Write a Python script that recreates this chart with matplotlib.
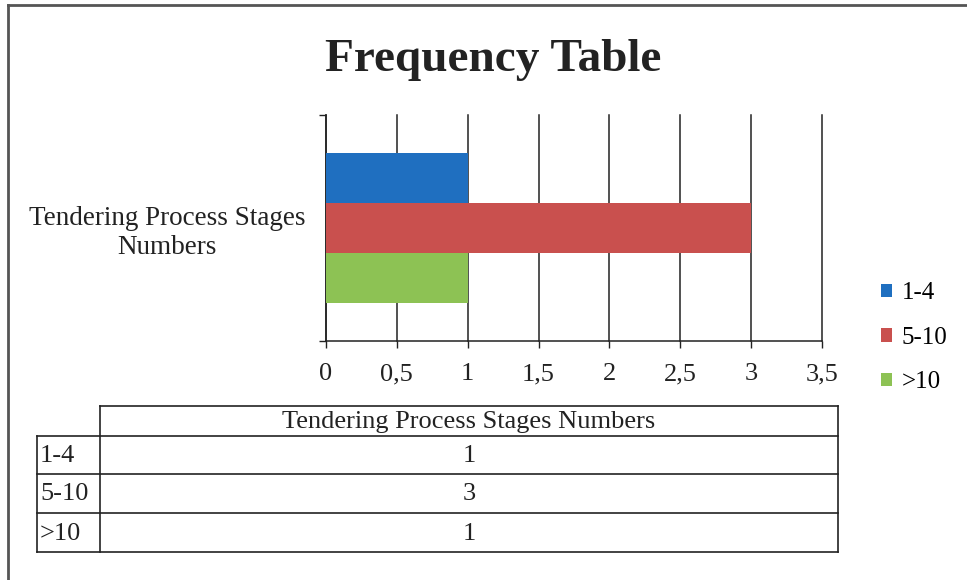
import numpy as np
import matplotlib
matplotlib.use("Agg")
import matplotlib.pyplot as plt
from matplotlib.patches import Patch

plt.rcParams['font.family'] = ['Liberation Serif', 'DejaVu Serif']

# dados
categoria = "Tendering Process Stages Numbers"
faixas = ["1-4", "5-10", ">10"]
valores = [1, 3, 1]
cores = ["#1F6FC0", "#C9504E", "#8DC254"]
xticks = [0, 0.5, 1, 1.5, 2, 2.5, 3, 3.5]
xtick_labels = ["0", "0,5", "1", "1,5", "2", "2,5", "3", "3,5"]

W, H = 967, 580
fig = plt.figure(figsize=(W / 100, H / 100), dpi=100)

# camada de fundo em pixels (moldura + tabela)
base = fig.add_axes([0, 0, 1, 1])
base.set_xlim(0, W)
base.set_ylim(H, 0)
base.axis("off")
base.plot([8, W], [5, 5], color="#555555", lw=2)
base.plot([8, 8], [5, H], color="#555555", lw=2)

fig.text(493 / W, 1 - 60 / H, "Frequency Table", ha="center", va="center",
         fontsize=34, fontweight="bold", color="#222222")

# grafico de barras
ax = fig.add_axes([326 / W, 1 - 341 / H, 496 / W, 226 / H])
altura = 0.221
for i in range(len(faixas)):
    ax.barh(altura * (1 - i), valores[i], height=altura, color=cores[i],
            label=faixas[i], zorder=3)

ax.set_xlim(0, 3.5)
ax.set_ylim(-0.5, 0.5)
ax.set_xticks(xticks)
ax.set_xticklabels(xtick_labels, fontsize=19, color="#222222")
ax.tick_params(axis="x", direction="out", length=5, width=1, pad=11, colors="#222222")
ax.grid(axis="x", color="#222222", lw=1.1, zorder=1)
for g in ax.get_xgridlines():
    g.set_clip_on(False)

ax.set_yticks([-0.5, 0.5])
ax.set_yticklabels([])
ax.tick_params(axis="y", direction="out", length=5, width=1, colors="#222222")
ax.set_yticks([0], minor=True)
ax.set_yticklabels([categoria.replace("Stages ", "Stages\n")], minor=True,
                   fontsize=19.5, color="#222222", multialignment="center")
ax.tick_params(axis="y", which="minor", length=0, pad=15)

ax.spines["top"].set_visible(False)
ax.spines["right"].set_visible(False)
ax.spines["left"].set_color("#222222")
ax.spines["bottom"].set_color("#222222")
ax.spines["left"].set_linewidth(1.1)
ax.spines["bottom"].set_linewidth(1.1)

# legenda
handles = [Patch(facecolor=c, edgecolor="none") for c in cores]
fig.legend(handles, faixas, loc="upper left",
           bbox_to_anchor=(868 / W, 1 - 270 / H), frameon=False, fontsize=18,
           handlelength=0.45, handleheight=0.45, handletextpad=0.4,
           labelspacing=0.9, borderpad=0)

# tabela de dados
x0, x1, x2 = 37, 100, 838
y_cab, y_lin = (406, 436), [436, 474, 513, 552]
cor_t = "#222222"
base.plot([x1, x2], [y_cab[0], y_cab[0]], color=cor_t, lw=1.2)
for y in y_lin:
    base.plot([x0, x2], [y, y], color=cor_t, lw=1.2)
base.plot([x0, x0], [y_lin[0], y_lin[-1]], color=cor_t, lw=1.2)
base.plot([x1, x1], [y_cab[0], y_lin[-1]], color=cor_t, lw=1.2)
base.plot([x2, x2], [y_cab[0], y_lin[-1]], color=cor_t, lw=1.2)

xc = (x1 + x2) / 2
base.text(xc, (y_cab[0] + y_cab[1]) / 2 + 1, categoria, ha="center", va="center",
          fontsize=19, color=cor_t)
for i in range(len(faixas)):
    yc = (y_lin[i] + y_lin[i + 1]) / 2 + 1
    base.text(x0 + 3, yc, faixas[i], ha="left", va="center", fontsize=19, color=cor_t)
    base.text(xc, yc, str(valores[i]), ha="center", va="center", fontsize=19, color=cor_t)

fig.savefig("out.png", dpi=100)
